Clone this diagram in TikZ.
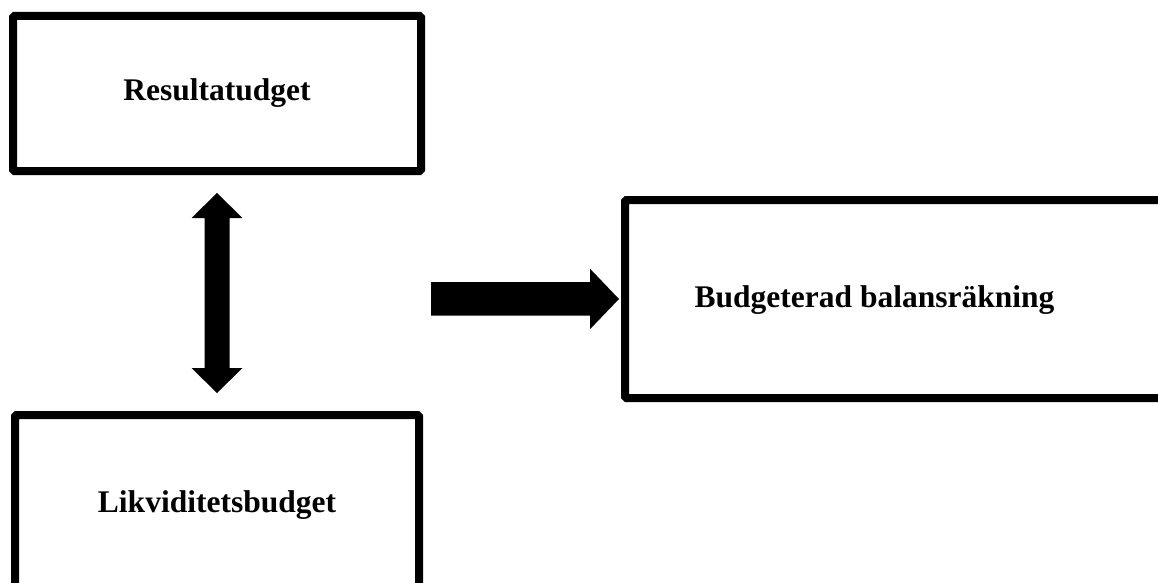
\documentclass[tikz,border=0pt]{standalone}
\usepackage{fontspec}
\setmainfont{Liberation Serif}
\usetikzlibrary{shadows}
\begin{document}
\begin{tikzpicture}[x=1pt,y=-1pt,
  boxfont/.style={font=\fontsize{31.5}{37}\selectfont\bfseries},
  box/.style={draw=black, line width=8pt, fill=white, rounded corners=1.5pt,
    inner sep=0pt, boxfont,
    drop shadow={shadow xshift=2pt, shadow yshift=-3pt, opacity=0.25, fill=black!60}},
  blockarrow/.style={fill=black, draw=none}]
  \useasboundingbox (0,0) rectangle (1158,583);

  % boxes
  \node[box, minimum width=408pt, minimum height=155pt] (res) at (217,93.5) {Resultatudget};
  \node[box, minimum width=404pt, minimum height=180pt] (lik) at (217,505) {Likviditetsbudget};
  \node[box, minimum width=544pt, minimum height=198pt, anchor=west,
        label={[boxfont, xshift=-22.5pt, yshift=-1pt]center:Budgeterad balansräkning}]
        (bal) at (621,299) {};

  % double block arrow between the two budgets
  \coordinate (up) at (217,193);
  \coordinate (dn) at (217,393);
  \fill[blockarrow] (up) -- ++(25.5,25) -- ++(-13,0) -- ++(0,150) -- ++(13,0)
    -- (dn) -- ++(-25.5,-25) -- ++(13,0) -- ++(0,-150) -- ++(-13,0) -- cycle;

  % block arrow into the balance sheet
  \coordinate (tip) at ([xshift=-2pt]bal.west);
  \fill[blockarrow] (tip) -- ++(-29,-30.3) -- ++(0,13.5) -- ++(-159,0) -- ++(0,33.5)
    -- ++(159,0) -- ++(0,13.5) -- cycle;
\end{tikzpicture}
\end{document}
